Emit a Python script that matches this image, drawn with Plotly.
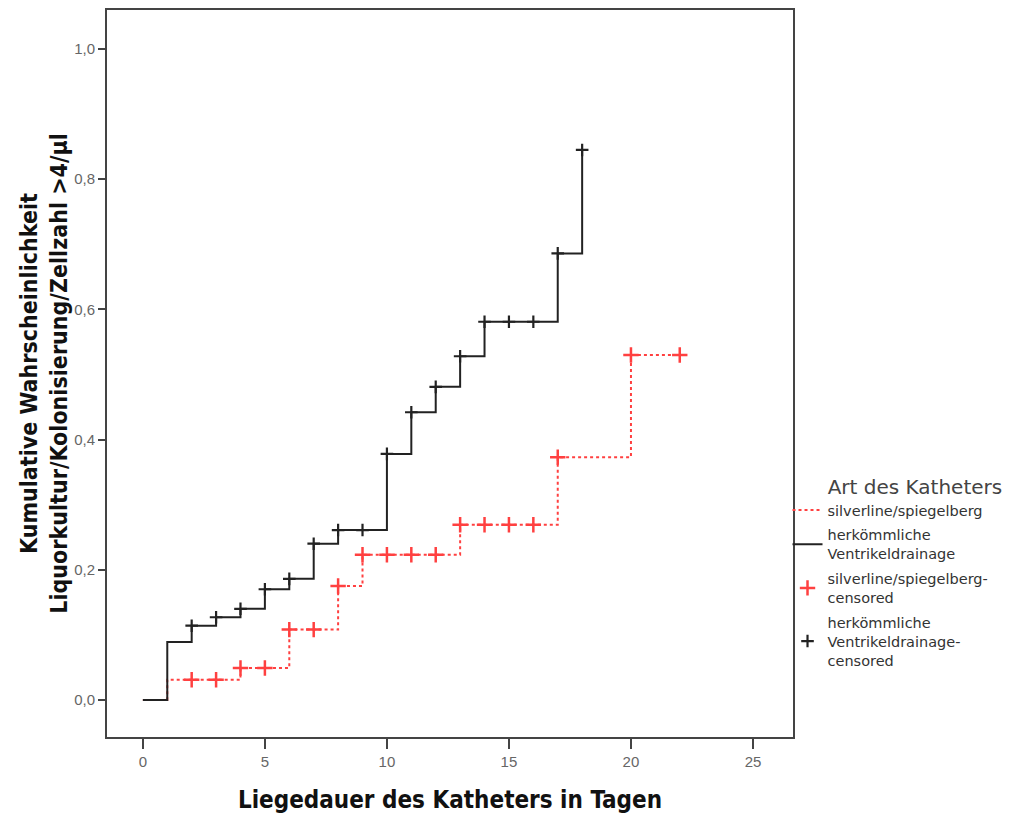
import plotly.graph_objects as go

# Step curve data (cumulative probability)
black_days = [0, 1, 2, 3, 4, 5, 6, 7, 8, 9, 10, 11, 12, 13, 14, 15, 16, 17, 18]
black_cum = [0.0, 0.089, 0.114, 0.127, 0.140, 0.170, 0.186, 0.240, 0.261, 0.261,
             0.378, 0.442, 0.481, 0.528, 0.581, 0.581, 0.581, 0.686, 0.845]
red_days = [0, 1, 2, 3, 4, 5, 6, 7, 8, 9, 10, 11, 12, 13, 14, 15, 16, 17, 20, 22]
red_cum = [0.0, 0.031, 0.031, 0.031, 0.049, 0.049, 0.108, 0.108, 0.175, 0.223,
           0.223, 0.223, 0.223, 0.269, 0.269, 0.269, 0.269, 0.373, 0.530, 0.530]

# Censored marks
black_cens_days = [2, 3, 4, 5, 6, 7, 8, 9, 10, 11, 12, 13, 14, 15, 16, 17, 18]
black_cens_cum = [0.114, 0.127, 0.140, 0.170, 0.186, 0.240, 0.261, 0.261, 0.378,
                  0.442, 0.481, 0.528, 0.581, 0.581, 0.581, 0.686, 0.845]
red_cens_days = [2, 3, 4, 5, 6, 7, 8, 9, 10, 11, 12, 13, 14, 15, 16, 17, 20, 22]
red_cens_cum = [0.031, 0.031, 0.049, 0.049, 0.108, 0.108, 0.175, 0.223, 0.223,
                0.223, 0.223, 0.269, 0.269, 0.269, 0.269, 0.373, 0.530, 0.530]

x_ticks = [0, 5, 10, 15, 20, 25]
y_ticks = [0.0, 0.2, 0.4, 0.6, 0.8, 1.0]

RED = "#ff4040"
BLACK = "#222222"

fig = go.Figure()
fig.add_trace(go.Scatter(
    x=red_days, y=red_cum, mode="lines", line_shape="hv",
    line=dict(color=RED, width=2, dash="3px,3px"),
    name="silverline/spiegelberg", legendgroup="a"))
fig.add_trace(go.Scatter(
    x=black_days, y=black_cum, mode="lines", line_shape="hv",
    line=dict(color=BLACK, width=2),
    name="herkömmliche<br>Ventrikeldrainage", legendgroup="b"))
fig.add_trace(go.Scatter(
    x=red_cens_days, y=red_cens_cum, mode="markers",
    marker=dict(symbol="cross-thin", size=11, line=dict(color=RED, width=2.5)),
    name="silverline/spiegelberg-<br>censored", legendgroup="c"))
fig.add_trace(go.Scatter(
    x=black_cens_days, y=black_cens_cum, mode="markers",
    marker=dict(symbol="cross-thin", size=9, line=dict(color=BLACK, width=2.2)),
    name="herkömmliche<br>Ventrikeldrainage-<br>censored", legendgroup="d"))

TITLE_FONT = "DejaVu Sans Condensed, Liberation Sans Narrow, sans-serif"
NB = "\u00a0"

fig.update_layout(
    width=1005, height=808,
    margin=dict(l=99, r=220, t=2, b=79),
    paper_bgcolor="white", plot_bgcolor="white",
    separators=",.",
    font=dict(family="Liberation Sans, Arial, sans-serif", color="#444"),
    showlegend=True,
    legend=dict(
        x=0.992, y=0.37, xanchor="left", yanchor="top",
        title=dict(text=NB * 6 + "Art des Katheters",
                   font=dict(size=20, color="#444", family="DejaVu Sans, sans-serif")),
        font=dict(size=14.5, color="#333", family="DejaVu Sans, sans-serif"),
        bgcolor="rgba(0,0,0,0)", tracegroupgap=3, itemwidth=30,
    ),
    xaxis=dict(
        range=[-1.47, 26.64], tickvals=x_ticks, tickformat="d",
        showgrid=False, zeroline=False, automargin=False,
        showline=True, linecolor="#444", linewidth=2, mirror=True,
        ticks="outside", ticklen=10, tickwidth=2, tickcolor="#444",
        tickfont=dict(size=15, color="#666"),
        title=dict(text="<b>Liegedauer des Katheters in Tagen</b>",
                   font=dict(size=24, color="#111", family=TITLE_FONT), standoff=22),
    ),
    yaxis=dict(
        range=[-0.057, 1.06], tickvals=y_ticks, tickformat=".1f",
        showgrid=False, zeroline=False, automargin=False,
        showline=True, linecolor="#444", linewidth=2, mirror=True,
        ticks="outside", ticklen=7, tickwidth=2, tickcolor="#444",
        tickfont=dict(size=15, color="#666"),
        title=dict(text="<b>Kumulative Wahrscheinlichkeit<br>Liquorkultur/Kolonisierung/Zellzahl >4/µl</b>",
                   font=dict(size=23, color="#111", family=TITLE_FONT), standoff=0),
    ),
)

fig.write_html("out.html")
